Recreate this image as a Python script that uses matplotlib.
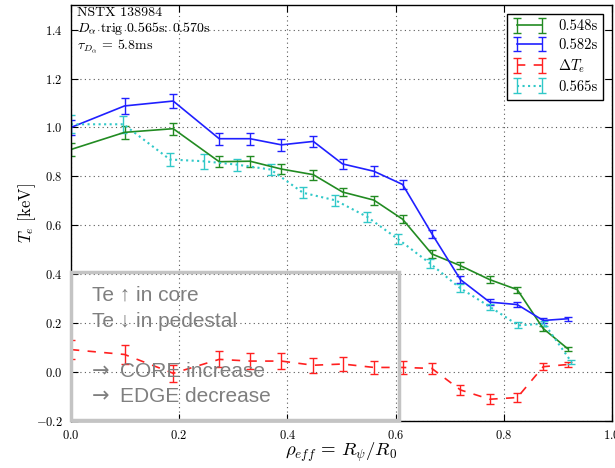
import matplotlib
matplotlib.use('Agg')
from matplotlib import pyplot as plt
from matplotlib.patches import Rectangle

plt.rcParams['mathtext.fontset'] = 'cm'
plt.rcParams['font.family'] = 'serif'
plt.rcParams['font.serif'] = ['cmr10', 'DejaVu Serif']
plt.rcParams['axes.formatter.use_mathtext'] = True
plt.rcParams['axes.unicode_minus'] = True

# radial channels
rho = [0.0, 0.099, 0.189, 0.274, 0.331, 0.389, 0.448, 0.502, 0.560, 0.613,
       0.667, 0.720, 0.774, 0.825, 0.873, 0.918]
rho_mid = [0.0, 0.097, 0.183, 0.245, 0.307, 0.369, 0.429, 0.489, 0.548, 0.605,
           0.664, 0.719, 0.775, 0.827, 0.875, 0.925]

te_548 = [0.91, 0.98, 0.995, 0.86, 0.862, 0.83, 0.807, 0.736, 0.703, 0.625,
          0.483, 0.435, 0.378, 0.337, 0.178, 0.096]
err_548 = [0.028, 0.028, 0.025, 0.022, 0.022, 0.02, 0.02, 0.018, 0.018, 0.016,
           0.015, 0.014, 0.013, 0.012, 0.01, 0.008]

te_582 = [1.0, 1.088, 1.108, 0.954, 0.954, 0.929, 0.943, 0.851, 0.821, 0.767,
          0.566, 0.378, 0.286, 0.276, 0.211, 0.218]
err_582 = [0.03, 0.034, 0.029, 0.025, 0.025, 0.024, 0.022, 0.022, 0.02, 0.018,
           0.016, 0.015, 0.012, 0.01, 0.01, 0.008]

te_565 = [1.013, 1.013, 0.869, 0.862, 0.848, 0.828, 0.733, 0.702, 0.634, 0.543,
          0.444, 0.344, 0.266, 0.191, 0.198, 0.042]
err_565 = [0.037, 0.035, 0.025, 0.03, 0.025, 0.024, 0.022, 0.022, 0.02, 0.02,
           0.018, 0.016, 0.014, 0.012, 0.01, 0.008]

dte = [0.092, 0.072, -0.005, 0.052, 0.045, 0.045, 0.028, 0.033, 0.019, 0.019,
       0.015, -0.073, -0.111, -0.104, 0.022, 0.031]
err_dte = [0.038, 0.039, 0.035, 0.033, 0.032, 0.032, 0.03, 0.03, 0.027, 0.025,
           0.024, 0.022, 0.02, 0.02, 0.015, 0.01]

xticks = [0.0, 0.2, 0.4, 0.6, 0.8, 1.0]
yticks = [-0.2, 0.0, 0.2, 0.4, 0.6, 0.8, 1.0, 1.2, 1.4]

fig = plt.figure(figsize=(6.15, 4.68), dpi=100)
ax = fig.add_axes([0.1154, 0.1004, 0.8796, 0.8886])

ax.errorbar(rho, te_548, yerr=err_548, color='#228b22', lw=1.2, capsize=3,
            elinewidth=1.0, label='0.548s')
ax.errorbar(rho, te_582, yerr=err_582, color='#2020ff', lw=1.2, capsize=3,
            elinewidth=1.0, label='0.582s')
ax.errorbar(rho, dte, yerr=err_dte, color='#ff2020', lw=1.2, ls=(0, (5, 5)),
            capsize=3, elinewidth=1.0, label=r'$\Delta T_e$')
ax.errorbar(rho_mid, te_565, yerr=err_565, color='#30c8c8', lw=1.5, ls=':',
            capsize=3, elinewidth=1.0, label='0.565s')

ax.set_xlim(0, 1.0)
ax.set_ylim(-0.2, 1.5)
ax.set_xticks(xticks)
ax.set_yticks(yticks)
ax.tick_params(direction='in', top=True, right=True, labelsize=9, length=5,
               pad=6)
ax.grid(True, color='0.35', ls=(0, (1, 3)), lw=0.8)
for s in ax.spines.values():
    s.set_linewidth(1.0)

ax.set_xlabel(r'$\rho_{eff}\, =\, R_\psi/R_0$', fontsize=13.5, labelpad=-1)
ax.set_ylabel(r'$T_e$ [keV]', fontsize=12, labelpad=-2)

ax.text(0.012, 0.995, 'NSTX 138984\n' + r'$D_\alpha$ trig 0.565s: 0.570s' + '\n'
        + r'$\tau_{D_\alpha}$ = 5.8ms', transform=ax.transAxes, va='top',
        ha='left', fontsize=10, linespacing=1.05)

leg = ax.legend(loc='upper right', numpoints=2, fontsize=10.5, fancybox=False,
                edgecolor='k', framealpha=1, handlelength=2.3,
                borderaxespad=0.6, labelspacing=0.35)
leg.get_frame().set_linewidth(1.0)

# overlay note box
ax.add_patch(Rectangle((0.0, -0.197), 0.606, 0.605, fill=False,
                       edgecolor='#c4c4c4', lw=2.5, clip_on=False, zorder=5))
note_font = ['Liberation Sans', 'DejaVu Sans']
note_color = '#7f7f7f'
ax.text(0.038, 0.313, 'Te \u2191 in core', color=note_color, fontsize=15,
        family=note_font, va='center', zorder=6)
ax.text(0.038, 0.205, 'Te \u2193 in pedestal', color=note_color, fontsize=15,
        family=note_font, va='center', zorder=6)
ax.text(0.038, 0.001, '\u2192', color=note_color, fontsize=15,
        family='DejaVu Sans', va='center', zorder=6)
ax.text(0.090, 0.001, 'CORE increase', color=note_color, fontsize=15,
        family=note_font, va='center', zorder=6)
ax.text(0.038, -0.1, '\u2192', color=note_color, fontsize=15,
        family='DejaVu Sans', va='center', zorder=6)
ax.text(0.090, -0.1, 'EDGE decrease', color=note_color, fontsize=15,
        family=note_font, va='center', zorder=6)

fig.savefig('out.png', dpi=100)
